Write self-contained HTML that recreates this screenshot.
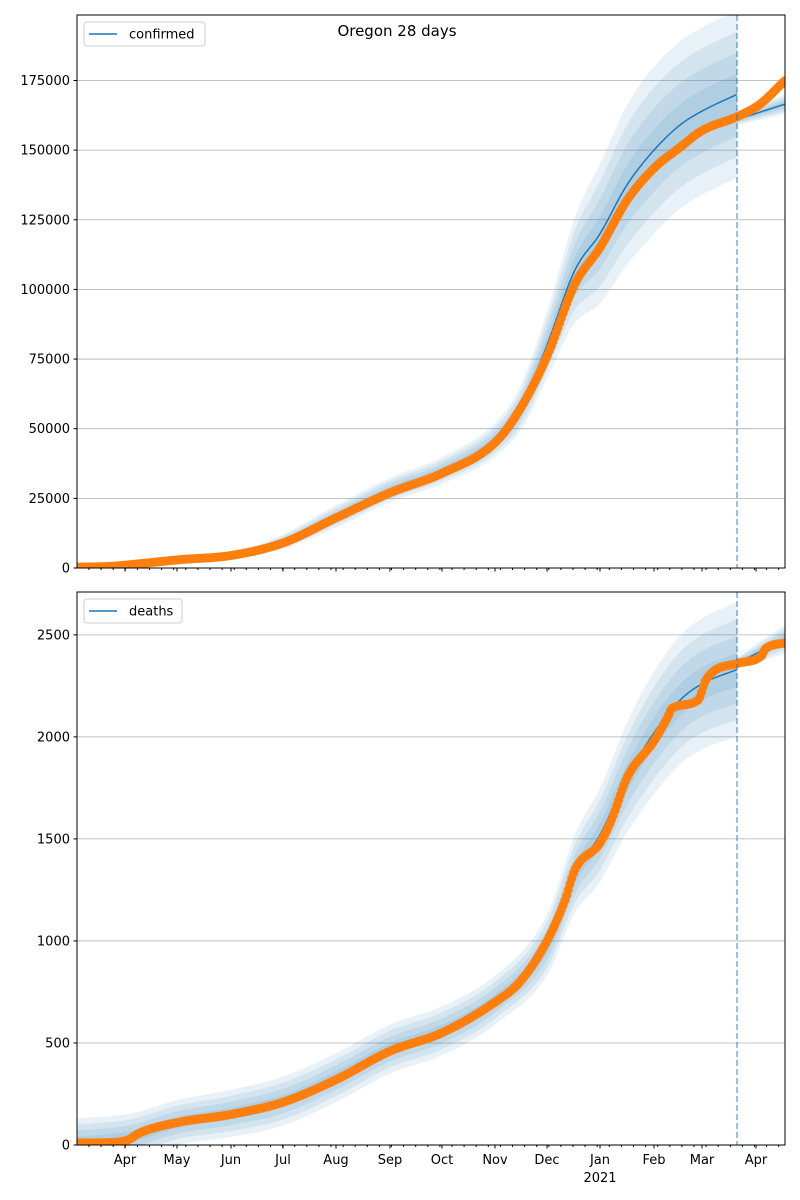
<!DOCTYPE html>
<html><head><meta charset="utf-8"><style>
body{margin:0;background:#fff;}
svg{display:block;font-family:"DejaVu Sans","Liberation Sans",sans-serif;}
</style></head><body>
<svg id="s" width="800" height="1200" viewBox="0 0 800 1200" xmlns="http://www.w3.org/2000/svg"></svg>
<script>
const S=document.getElementById('s');
let h='';
const X0=77,X1=785;
function interp(a,x){
  if(x<=a[0][0])return a[0][1];
  const n=a.length;if(x>=a[n-1][0])return a[n-1][1];
  const d=[],m=[];
  for(let i=0;i<n-1;i++)d.push((a[i+1][1]-a[i][1])/(a[i+1][0]-a[i][0]));
  m[0]=d[0];m[n-1]=d[n-2];
  for(let i=1;i<n-1;i++){m[i]=(d[i-1]*d[i]<=0)?0:(d[i-1]+d[i])/2;}
  for(let i=0;i<n-1;i++){if(d[i]==0){m[i]=0;m[i+1]=0;continue;}const al=m[i]/d[i],be=m[i+1]/d[i],s=al*al+be*be;if(s>9){const t=3/Math.sqrt(s);m[i]=t*al*d[i];m[i+1]=t*be*d[i];}}
  let i=0;while(x>a[i+1][0])i++;
  const hh=a[i+1][0]-a[i][0],t=(x-a[i][0])/hh;
  const h00=2*t*t*t-3*t*t+1,h10=t*t*t-2*t*t+t,h01=-2*t*t*t+3*t*t,h11=t*t*t-t*t;
  return h00*a[i][1]+h10*hh*m[i]+h01*a[i+1][1]+h11*hh*m[i+1];
}
function panel(top,bot,vmax,ticks,data,model,post,bandW,name,dateTicks){
  const Y=v=>bot-(v/vmax)*(bot-top);
  h+=`<defs><clipPath id="c${top}"><rect x="${X0}" y="${top}" width="${X1-X0}" height="${bot-top}"/></clipPath></defs>`;
  ticks.forEach(t=>{const y=Y(t);h+=`<line x1="${X0}" x2="${X1}" y1="${y}" y2="${y}" stroke="#b0b0b0" stroke-width="0.8"/>`;
    h+=`<line x1="${X0-3.5}" x2="${X0}" y1="${y}" y2="${y}" stroke="#000"/><text x="${X0-7}" y="${y+4.5}" font-size="13" text-anchor="end">${t}</text>`;});
  h+=`<g clip-path="url(#c${top})">`;
  [1,0.75,0.5,0.25].forEach(f=>{
    let up=[],dn=[];
    for(let x=X0;x<=737;x+=2){const m=interp(model,x),w=interp(bandW,x)*f;up.push(`${x},${Y(m+w)}`);dn.unshift(`${x},${Y(m-w)}`);}
    h+=`<polygon points="${up.join(' ')} ${dn.join(' ')}" fill="#1f77b4" fill-opacity="0.1"/>`;
    let u2=[],d2=[];
    for(let x=737;x<=X1;x+=2){const m=interp(post,x),w=interp(post.map(p=>[p[0],p[2]]),x)*f;u2.push(`${x},${Y(m+w)}`);d2.unshift(`${x},${Y(m-w)}`);}
    h+=`<polygon points="${u2.join(' ')} ${d2.join(' ')}" fill="#1f77b4" fill-opacity="0.1"/>`;
  });
  let p=[];for(let x=X0;x<=737;x+=2)p.push(`${x},${Y(interp(model,x))}`);
  h+=`<polyline points="${p.join(' ')}" fill="none" stroke="#1f77b4" stroke-width="1.5"/>`;
  p=[];for(let x=737;x<=X1;x+=2)p.push(`${x},${Y(interp(post,x))}`);
  h+=`<polyline points="${p.join(' ')}" fill="none" stroke="#1f77b4" stroke-width="1.5"/>`;
  for(let x=X0;x<=X1+2;x+=1.73){h+=`<circle cx="${x}" cy="${Y(interp(data,x))}" r="4.5" fill="#ff7f0e"/>`;}
  h+=`</g>`;
  h+=`<line x1="737" x2="737" y1="${top}" y2="${bot}" stroke="#1f77b4" stroke-opacity="0.6" stroke-width="1.5" stroke-dasharray="6,3"/>`;
  h+=`<rect x="${X0}" y="${top}" width="${X1-X0}" height="${bot-top}" fill="none" stroke="#000" stroke-width="1"/>`;
  const months=[[125,'Apr'],[177,'May'],[231,'Jun'],[283,'Jul'],[336,'Aug'],[390,'Sep'],[442,'Oct'],[495,'Nov'],[547,'Dec'],[600,'Jan'],[654,'Feb'],[702,'Mar'],[756,'Apr']];
  months.forEach(([x,l])=>{h+=`<line x1="${x}" x2="${x}" y1="${bot}" y2="${bot+3.5}" stroke="#000"/>`;if(dateTicks)h+=`<text x="${x}" y="${bot+19}" font-size="13" text-anchor="middle">${l}</text>`;});
  for(let x=X0+12;x<X1;x+=12.1)h+=`<line x1="${x}" x2="${x}" y1="${bot}" y2="${bot+2}" stroke="#000"/>`;
  if(dateTicks)h+=`<text x="600" y="${bot+37}" font-size="13" text-anchor="middle">2021</text>`;
  h+=`<rect x="${X0+7}" y="${top+7}" width="${name=='confirmed'?121:98}" height="24" rx="3" fill="#fff" fill-opacity="0.8" stroke="#ccc"/>`;
  h+=`<line x1="${X0+12}" x2="${X0+40}" y1="${top+19}" y2="${top+19}" stroke="#1f77b4" stroke-width="1.5"/><text x="${X0+52}" y="${top+23.5}" font-size="13">${name}</text>`;
}
const cData=[[77,300],[110,600],[130,1200],[180,3000],[231,4500],[283,9000],[336,18000],[390,27000],[442,34000],[495,45000],[520,57000],[547,76000],[575,102000],[600,115000],[627,132000],[654,143500],[680,151000],[702,157000],[737,162000],[760,166500],[785,175000]];
const cModel=[[77,300],[110,600],[130,1200],[180,3000],[231,4500],[283,9500],[336,18500],[390,28000],[442,35000],[495,46000],[520,57000],[547,80000],[575,107000],[600,120000],[627,137500],[654,150000],[680,159000],[702,164000],[737,170000]];
const cBand=[[77,200],[231,1000],[336,4000],[495,6000],[547,12000],[600,25000],[654,30000],[737,30000]];
const cPost=[[737,161000,2000],[785,166500,3500]];
panel(15,568,198500,[0,25000,50000,75000,100000,125000,150000,175000],cData,cModel,cPost,cBand,'confirmed',false);
h+=`<text x="397" y="36" font-size="15" text-anchor="middle">Oregon 28 days</text>`;
const dData=[[77,10],[110,12],[128,25],[140,60],[177,110],[231,150],[283,210],[336,320],[390,460],[442,550],[495,700],[520,800],[547,1000],[565,1200],[575,1350],[600,1480],[612,1600],[627,1800],[654,1980],[668,2100],[672,2140],[698,2180],[706,2280],[737,2360],[762,2400],[765,2430],[785,2460]];
const dModel=[[77,10],[130,40],[177,110],[231,155],[283,215],[336,330],[390,470],[442,560],[495,710],[547,980],[575,1330],[600,1520],[627,1800],[654,2020],[680,2180],[702,2260],[737,2330]];
const dBand=[[77,120],[177,110],[283,120],[390,120],[495,120],[547,150],[600,230],[654,300],[737,330]];
const dPost=[[737,2360,30],[785,2480,70]];
panel(592,1145,2710,[0,500,1000,1500,2000,2500],dData,dModel,dPost,dBand,'deaths',true);
S.innerHTML=h;
</script>
</body></html>
